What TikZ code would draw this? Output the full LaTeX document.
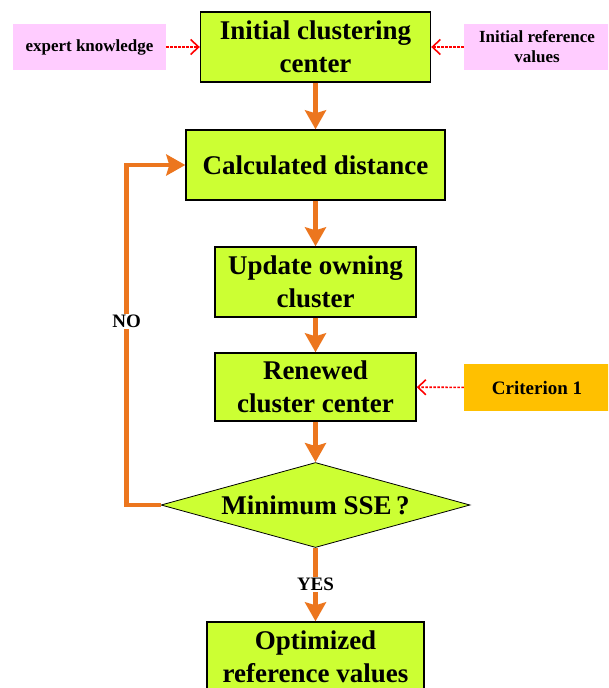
\documentclass[tikz,border=0pt]{standalone}
\usepackage{fontspec}
\setmainfont{Liberation Serif}
\usepackage{xcolor}
\usetikzlibrary{arrows.meta, positioning, shapes.geometric}

\definecolor{boxgreen}{HTML}{CCFF33}
\definecolor{notepink}{HTML}{FFCCFF}
\definecolor{critorange}{HTML}{FFC000}
\definecolor{flowor}{RGB}{236,118,30}

\begin{document}
\begin{tikzpicture}[
				x=1pt, y=1pt,
				box/.style={
					rectangle,
					draw=black,
					line width=1.4pt,
					fill=boxgreen,
					minimum height=70pt,
					inner sep=0pt,
					align=center,
					font=\fontsize{27}{33}\selectfont\bfseries
				},
				note/.style={
					rectangle,
					fill=notepink,
					minimum height=46pt,
					inner sep=0pt,
					align=center,
					font=\fontsize{17}{20}\selectfont\bfseries
				},
				flow/.style={
					draw=flowor,
					line width=4.5pt,
					-{Stealth[length=19pt,width=21pt,inset=3pt]}
				},
				hint/.style={
					draw=red,
					line width=1.6pt,
					dash pattern=on 2.5pt off 1.5pt,
					-{Straight Barb[length=8pt,width=15pt]}
				},
				answer/.style={
					fill=white,
					inner sep=1pt,
					font=\fontsize{19}{22}\selectfont\bfseries
				}
				]
				
				\clip (0,0) rectangle (608,-688);
				
				% Main column
				\node[box, minimum width=230pt] (init) at (315.5,-47)
				{Initial clustering\\ center};
				
				\node[box, minimum width=259pt] (dist) at (315.5,-165)
				{Calculated distance};
				
				\node[box, minimum width=201pt] (owning) at (315.5,-282)
				{Update owning\\ cluster};
				
				\node[box, minimum width=201pt, minimum height=68pt] (renew) at (315.5,-387)
				{Renewed\\ cluster center};
				
				\node[diamond, aspect=3.6, draw=black, line width=0.8pt, fill=boxgreen,
					minimum width=309pt, minimum height=85pt, inner sep=0pt,
					font=\fontsize{27}{33}\selectfont\bfseries] (sse) at (315.5,-505)
				{Minimum SSE\,?};
				
				\node[box, minimum width=217pt] (optim) at (315.5,-657)
				{Optimized\\ reference values};
				
				% Side inputs
				\node[note, minimum width=153pt] (expert) at (89.5,-47)
				{expert knowledge};
				
				\node[note, minimum width=146pt] (refval) at (537,-47)
				{Initial reference\\ values};
				
				\node[note, fill=critorange, minimum width=146pt, minimum height=47pt,
					font=\fontsize{19}{22}\selectfont\bfseries] (crit) at (537,-387.5)
				{Criterion 1};
				
				% Flow arrows
				\draw[flow] (init) -- (dist);
				\draw[flow] (dist) -- (owning);
				\draw[flow] (owning) -- (renew);
				\draw[flow] (renew) -- (sse);
				\draw[flow] (sse) -- node[answer] {YES} (optim);
				\draw[flow] (sse.west) -- ++(-34,0) |- node[answer, pos=0.27] {NO} (dist.west);
				
				% Dotted inputs
				\draw[hint] (expert) -- (init);
				\draw[hint] (refval) -- (init);
				\draw[hint] (crit) -- (renew);
				
			\end{tikzpicture}
\end{document}
